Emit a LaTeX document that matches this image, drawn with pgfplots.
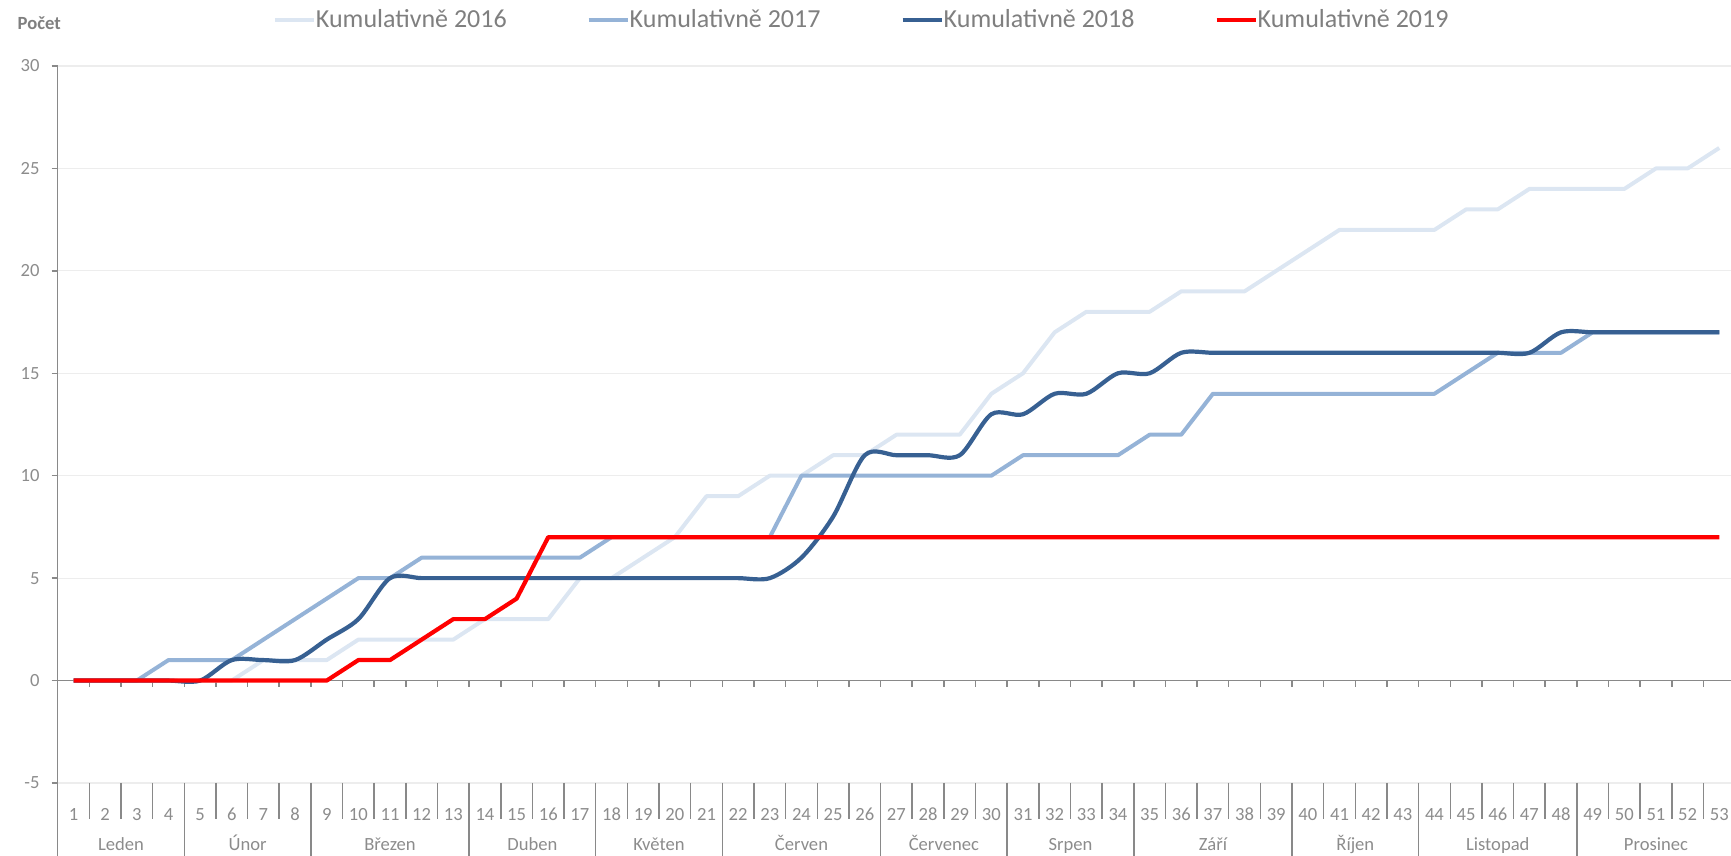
\documentclass[border=0pt]{standalone}
\usepackage{fontspec}
\setmainfont{Carlito}
\usepackage{pgfplots}
\usepackage{pgfplotstable}
\pgfplotsset{compat=1.18}
\definecolor{c16}{HTML}{DCE6F2}
\definecolor{c17}{HTML}{95B3D7}
\definecolor{c18}{HTML}{376092}
\definecolor{c19}{HTML}{FF0000}
\definecolor{axgray}{HTML}{898989}
\definecolor{gridgray}{HTML}{EDEDED}
\definecolor{txtgray}{HTML}{8C8C8C}
\definecolor{legtxt}{HTML}{7F7F7F}

\pgfplotstableread{
w a b c d
1 0 0 0 0
2 0 0 0 0
3 0 0 0 0
4 0 1 0 0
5 0 1 0 0
6 0 1 1 0
7 1 2 1 0
8 1 3 1 0
9 1 4 2 0
10 2 5 3 1
11 2 5 5 1
12 2 6 5 2
13 2 6 5 3
14 3 6 5 3
15 3 6 5 4
16 3 6 5 7
17 5 6 5 7
18 5 7 5 7
19 6 7 5 7
20 7 7 5 7
21 9 7 5 7
22 9 7 5 7
23 10 7 5 7
24 10 10 6 7
25 11 10 8 7
26 11 10 11 7
27 12 10 11 7
28 12 10 11 7
29 12 10 11 7
30 14 10 13 7
31 15 11 13 7
32 17 11 14 7
33 18 11 14 7
34 18 11 15 7
35 18 12 15 7
36 19 12 16 7
37 19 14 16 7
38 19 14 16 7
39 20 14 16 7
40 21 14 16 7
41 22 14 16 7
42 22 14 16 7
43 22 14 16 7
44 22 14 16 7
45 23 15 16 7
46 23 16 16 7
47 24 16 16 7
48 24 16 17 7
49 24 17 17 7
50 24 17 17 7
51 25 17 17 7
52 25 17 17 7
53 26 17 17 7
}\data

\begin{document}
\begin{tikzpicture}
\useasboundingbox (-28.85pt,-36.5pt) rectangle (836.65pt,391.5pt);
\begin{axis}[
  at={(0,0)}, anchor=south west,
  scale only axis, width=836.65pt, height=358.5pt,
  xmin=0.5, xmax=53.37, ymin=-5, ymax=30,
  clip=false,
  axis line style={draw=none},
  ytick={-5,0,...,30},
  ymajorgrids, grid style={gridgray, line width=0.6pt},
  ytick pos=left, tick align=outside, major tick length=3pt,
  ytick style={axgray, line width=0.75pt},
  xtick={1,...,53}, xtick style={draw=none},
  /pgf/number format/assume math mode=true,
  ticklabel style={font=\fontsize{9.3}{11}\selectfont, text=txtgray},
  yticklabel style={anchor=east, inner sep=0pt},
  yticklabel shift=5.85pt,
  xticklabel style={anchor=base, inner sep=0pt, yshift=-15.75pt},
  legend columns=4,
  legend style={draw=none, fill=none, at={(rel axis cs:0.1284,1)}, anchor=west,
    yshift=23pt, font=\fontsize{13}{15.6}\selectfont, text=legtxt,
    inner sep=0pt, nodes={inner sep=0pt},
    /tikz/every even column/.append style={column sep=40pt}},
  legend image code/.code={\draw[#1] (0pt,0pt) -- (19.5pt,0pt);},
]
% zero axis line with ticks
\draw[axgray, line width=0.75pt] (axis cs:0.5,0) -- (axis cs:53.37,0);
\pgfplotsinvokeforeach{1.5,2.5,...,52.5}{\draw[axgray, line width=0.75pt] (axis cs:#1,0) -- ++(0pt,-3pt);}
% y axis line extended to bottom
\draw[axgray, line width=0.75pt] (axis cs:0.5,30) -- (axis cs:0.5,-5) -- ++(0pt,-36.5pt);
% week separators
\pgfplotsinvokeforeach{1.5,2.5,...,52.5}{\draw[axgray, line width=0.75pt] (axis cs:#1,-5) -- ++(0pt,-18pt);}
% month separators
\pgfplotsinvokeforeach{4.5,8.5,13.5,17.5,21.5,26.5,30.5,34.5,39.5,43.5,48.5}{\draw[axgray, line width=0.75pt] (axis cs:#1,-5) -- ++(0pt,-36.5pt);}
% month names
\pgfplotsset{every node/.append style={}}
\node[anchor=base, inner sep=0pt, font=\fontsize{9.3}{11}\selectfont, text=txtgray, yshift=-33.6pt] at (axis cs:2.5,-5) {Leden};
\node[anchor=base, inner sep=0pt, font=\fontsize{9.3}{11}\selectfont, text=txtgray, yshift=-33.6pt] at (axis cs:6.5,-5) {Únor};
\node[anchor=base, inner sep=0pt, font=\fontsize{9.3}{11}\selectfont, text=txtgray, yshift=-33.6pt] at (axis cs:11,-5) {Březen};
\node[anchor=base, inner sep=0pt, font=\fontsize{9.3}{11}\selectfont, text=txtgray, yshift=-33.6pt] at (axis cs:15.5,-5) {Duben};
\node[anchor=base, inner sep=0pt, font=\fontsize{9.3}{11}\selectfont, text=txtgray, yshift=-33.6pt] at (axis cs:19.5,-5) {Květen};
\node[anchor=base, inner sep=0pt, font=\fontsize{9.3}{11}\selectfont, text=txtgray, yshift=-33.6pt] at (axis cs:24,-5) {Červen};
\node[anchor=base, inner sep=0pt, font=\fontsize{9.3}{11}\selectfont, text=txtgray, yshift=-33.6pt] at (axis cs:28.5,-5) {Červenec};
\node[anchor=base, inner sep=0pt, font=\fontsize{9.3}{11}\selectfont, text=txtgray, yshift=-33.6pt] at (axis cs:32.5,-5) {Srpen};
\node[anchor=base, inner sep=0pt, font=\fontsize{9.3}{11}\selectfont, text=txtgray, yshift=-33.6pt] at (axis cs:37,-5) {Září};
\node[anchor=base, inner sep=0pt, font=\fontsize{9.3}{11}\selectfont, text=txtgray, yshift=-33.6pt] at (axis cs:41.5,-5) {Říjen};
\node[anchor=base, inner sep=0pt, font=\fontsize{9.3}{11}\selectfont, text=txtgray, yshift=-33.6pt] at (axis cs:46,-5) {Listopad};
\node[anchor=base, inner sep=0pt, font=\fontsize{9.3}{11}\selectfont, text=txtgray, yshift=-33.6pt] at (axis cs:51,-5) {Prosinec};
% y label
\node[anchor=base west, inner sep=0pt, font=\bfseries\fontsize{9.3}{11}\selectfont, text=legtxt, xshift=-20.2pt, yshift=18pt] at (rel axis cs:0,1) {Počet};

\addplot[c16, line width=2pt, line join=round] table[x=w, y=a] {\data};
\addlegendentry{Kumulativně 2016}
\addplot[c17, line width=2pt, line join=round] table[x=w, y=b] {\data};
\addlegendentry{Kumulativně 2017}
\addplot[c18, line width=2.1pt, smooth, tension=0.5] table[x=w, y=c] {\data};
\addlegendentry{Kumulativně 2018}
\addplot[c19, line width=2.1pt, line join=round] table[x=w, y=d] {\data};
\addlegendentry{Kumulativně 2019}
\end{axis}
\end{tikzpicture}
\end{document}
